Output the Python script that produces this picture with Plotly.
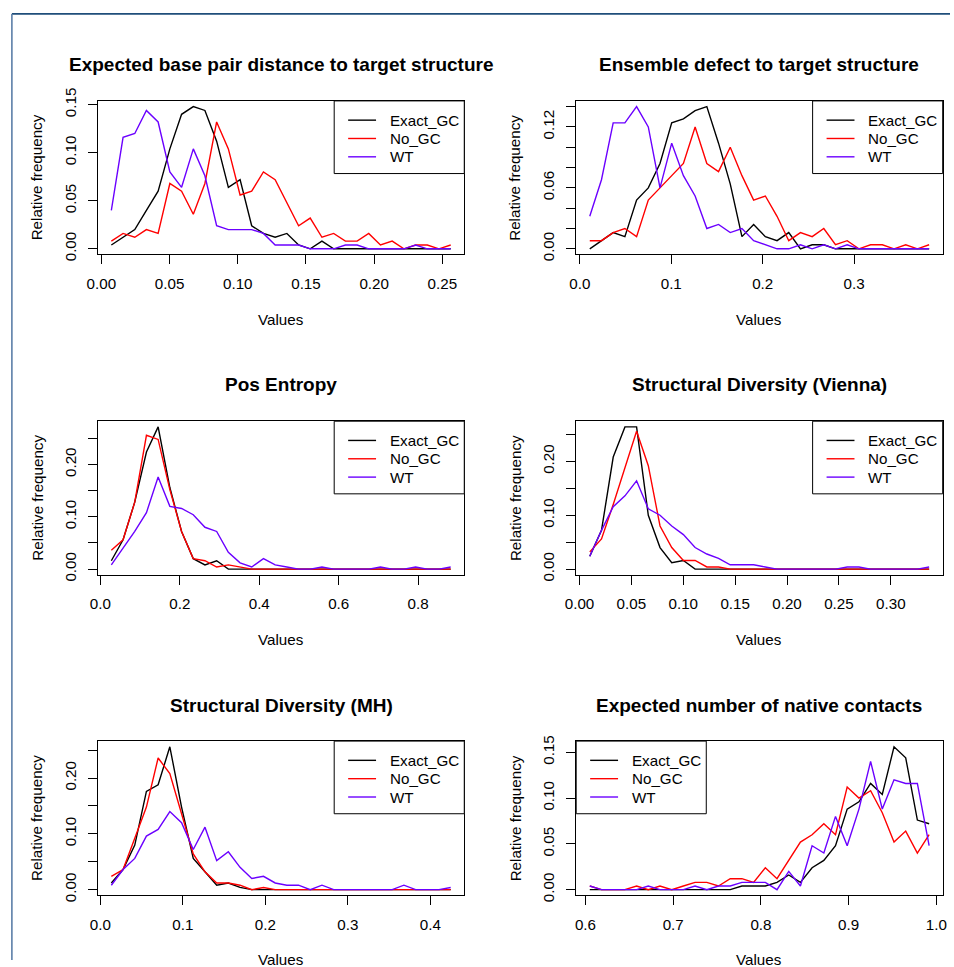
import plotly.graph_objects as go

W, H = 954, 967
FONT = "Liberation Sans, Arial, Helvetica, sans-serif"

series_names = ["Exact_GC", "No_GC", "WT"]
series_colors = ["#000000", "#FF0000", "#6B00FF"]

titles = [
    "Expected base pair distance to target structure",
    "Ensemble defect to target structure",
    "Pos Entropy",
    "Structural Diversity (Vienna)",
    "Structural Diversity (MH)",
    "Expected number of native contacts",
]

# ---------------- Panel 1 ----------------
x_p1 = [0.0073, 0.0159, 0.0245, 0.0330, 0.0416, 0.0502, 0.0588, 0.0674, 0.0759, 0.0845,
        0.0931, 0.1017, 0.1102, 0.1188, 0.1274, 0.1360, 0.1446, 0.1531, 0.1617, 0.1703,
        0.1789, 0.1875, 0.1960, 0.2046, 0.2132, 0.2218, 0.2304, 0.2389, 0.2475, 0.2561]
exact_p1 = [0.004, 0.012, 0.020, 0.040, 0.060, 0.104, 0.140, 0.148, 0.144, 0.112,
            0.064, 0.072, 0.024, 0.016, 0.012, 0.016, 0.004, 0.000, 0.008, 0.000,
            0.000, 0.000, 0.000, 0.000, 0.000, 0.000, 0.000, 0.000, 0.000, 0.000]
nogc_p1 = [0.008, 0.016, 0.012, 0.020, 0.016, 0.068, 0.060, 0.036, 0.068, 0.132,
           0.104, 0.056, 0.060, 0.080, 0.072, 0.048, 0.024, 0.032, 0.012, 0.016,
           0.008, 0.008, 0.016, 0.004, 0.008, 0.000, 0.004, 0.004, 0.000, 0.004]
wt_p1 = [0.040, 0.116, 0.120, 0.144, 0.132, 0.080, 0.064, 0.104, 0.076, 0.024,
         0.020, 0.020, 0.020, 0.016, 0.004, 0.004, 0.004, 0.000, 0.000, 0.000,
         0.004, 0.004, 0.000, 0.000, 0.000, 0.000, 0.004, 0.000, 0.000, 0.000]

# ---------------- Panel 2 ----------------
x_p2 = [0.0109, 0.0237, 0.0365, 0.0493, 0.0621, 0.0749, 0.0877, 0.1005, 0.1133, 0.1261,
        0.1389, 0.1517, 0.1645, 0.1773, 0.1901, 0.2029, 0.2157, 0.2285, 0.2413, 0.2541,
        0.2668, 0.2796, 0.2924, 0.3052, 0.3180, 0.3308, 0.3436, 0.3564, 0.3692, 0.3820]
exact_p2 = [0.000, 0.008, 0.016, 0.012, 0.048, 0.060, 0.084, 0.124, 0.128, 0.136,
            0.140, 0.104, 0.064, 0.012, 0.024, 0.012, 0.008, 0.016, 0.000, 0.004,
            0.004, 0.000, 0.000, 0.000, 0.000, 0.000, 0.000, 0.000, 0.000, 0.000]
nogc_p2 = [0.008, 0.008, 0.016, 0.020, 0.012, 0.048, 0.060, 0.072, 0.084, 0.120,
           0.084, 0.076, 0.100, 0.072, 0.048, 0.052, 0.032, 0.008, 0.016, 0.012,
           0.020, 0.004, 0.008, 0.000, 0.004, 0.004, 0.000, 0.004, 0.000, 0.004]
wt_p2 = [0.032, 0.068, 0.124, 0.124, 0.140, 0.120, 0.060, 0.104, 0.072, 0.052,
         0.020, 0.024, 0.016, 0.020, 0.008, 0.004, 0.000, 0.000, 0.004, 0.000,
         0.004, 0.000, 0.004, 0.000, 0.000, 0.000, 0.000, 0.000, 0.000, 0.000]

# ---------------- Panel 3 ----------------
x_p3 = [0.0276, 0.0571, 0.0865, 0.1160, 0.1454, 0.1749, 0.2044, 0.2338, 0.2633, 0.2928,
        0.3222, 0.3517, 0.3811, 0.4106, 0.4401, 0.4695, 0.4990, 0.5285, 0.5579, 0.5874,
        0.6168, 0.6463, 0.6758, 0.7052, 0.7347, 0.7642, 0.7936, 0.8231, 0.8525, 0.8820]
exact_p3 = [0.016, 0.056, 0.128, 0.224, 0.272, 0.156, 0.072, 0.020, 0.008, 0.016,
            0.000, 0.000, 0.000, 0.000, 0.000, 0.000, 0.000, 0.000, 0.000, 0.000,
            0.000, 0.000, 0.000, 0.000, 0.000, 0.000, 0.000, 0.000, 0.000, 0.000]
nogc_p3 = [0.036, 0.056, 0.128, 0.256, 0.248, 0.152, 0.072, 0.020, 0.016, 0.004,
           0.008, 0.004, 0.000, 0.000, 0.000, 0.000, 0.000, 0.000, 0.000, 0.000,
           0.000, 0.000, 0.000, 0.000, 0.000, 0.000, 0.000, 0.000, 0.000, 0.000]
wt_p3 = [0.008, 0.040, 0.072, 0.108, 0.176, 0.120, 0.116, 0.104, 0.080, 0.072,
         0.032, 0.012, 0.004, 0.020, 0.008, 0.004, 0.000, 0.000, 0.004, 0.000,
         0.000, 0.000, 0.000, 0.004, 0.000, 0.000, 0.004, 0.000, 0.000, 0.004]

# ---------------- Panel 4 ----------------
x_p4 = [0.0099, 0.0212, 0.0325, 0.0438, 0.0550, 0.0663, 0.0776, 0.0889, 0.1001, 0.1114,
        0.1227, 0.1340, 0.1452, 0.1565, 0.1678, 0.1790, 0.1903, 0.2016, 0.2129, 0.2241,
        0.2354, 0.2467, 0.2580, 0.2692, 0.2805, 0.2918, 0.3031, 0.3143, 0.3256, 0.3369]
exact_p4 = [0.024, 0.072, 0.208, 0.264, 0.264, 0.100, 0.040, 0.012, 0.016, 0.000,
            0.000, 0.000, 0.000, 0.000, 0.000, 0.000, 0.000, 0.000, 0.000, 0.000,
            0.000, 0.000, 0.000, 0.000, 0.000, 0.000, 0.000, 0.000, 0.000, 0.000]
nogc_p4 = [0.032, 0.056, 0.120, 0.188, 0.256, 0.192, 0.080, 0.040, 0.016, 0.016,
           0.004, 0.004, 0.000, 0.000, 0.000, 0.000, 0.000, 0.000, 0.000, 0.000,
           0.000, 0.000, 0.000, 0.000, 0.000, 0.000, 0.000, 0.000, 0.000, 0.000]
wt_p4 = [0.024, 0.072, 0.116, 0.136, 0.164, 0.112, 0.100, 0.080, 0.064, 0.040,
         0.028, 0.020, 0.008, 0.008, 0.008, 0.004, 0.000, 0.000, 0.000, 0.000,
         0.000, 0.000, 0.004, 0.004, 0.000, 0.000, 0.000, 0.000, 0.000, 0.004]

# ---------------- Panel 5 ----------------
x_p5 = [0.0133, 0.0275, 0.0417, 0.0558, 0.0700, 0.0842, 0.0984, 0.1126, 0.1268, 0.1410,
        0.1551, 0.1693, 0.1835, 0.1977, 0.2119, 0.2260, 0.2402, 0.2544, 0.2686, 0.2828,
        0.2970, 0.3111, 0.3253, 0.3395, 0.3537, 0.3679, 0.3821, 0.3962, 0.4104, 0.4246]
exact_p5 = [0.012, 0.036, 0.080, 0.176, 0.188, 0.256, 0.148, 0.056, 0.032, 0.008,
            0.012, 0.004, 0.000, 0.000, 0.000, 0.000, 0.000, 0.000, 0.000, 0.000,
            0.000, 0.000, 0.000, 0.000, 0.000, 0.000, 0.000, 0.000, 0.000, 0.000]
nogc_p5 = [0.024, 0.036, 0.092, 0.148, 0.236, 0.208, 0.136, 0.064, 0.032, 0.012,
           0.012, 0.008, 0.000, 0.004, 0.000, 0.000, 0.000, 0.000, 0.000, 0.000,
           0.000, 0.000, 0.000, 0.000, 0.000, 0.000, 0.000, 0.000, 0.000, 0.000]
wt_p5 = [0.008, 0.036, 0.056, 0.096, 0.108, 0.140, 0.120, 0.072, 0.112, 0.052,
         0.068, 0.040, 0.020, 0.024, 0.012, 0.008, 0.008, 0.000, 0.008, 0.000,
         0.000, 0.000, 0.000, 0.000, 0.000, 0.008, 0.000, 0.000, 0.000, 0.004]

# ---------------- Panel 6 ----------------
x_p6 = [0.6049, 0.6182, 0.6316, 0.6449, 0.6583, 0.6716, 0.6849, 0.6983, 0.7116, 0.7249,
        0.7383, 0.7516, 0.7650, 0.7783, 0.7916, 0.8050, 0.8183, 0.8317, 0.8450, 0.8583,
        0.8717, 0.8850, 0.8983, 0.9117, 0.9250, 0.9383, 0.9517, 0.9650, 0.9783, 0.9917]
exact_p6 = [0.000, 0.000, 0.000, 0.000, 0.000, 0.000, 0.000, 0.000, 0.000, 0.000,
            0.000, 0.000, 0.000, 0.004, 0.004, 0.004, 0.008, 0.016, 0.008, 0.024,
            0.032, 0.048, 0.088, 0.096, 0.116, 0.104, 0.156, 0.144, 0.076, 0.072]
nogc_p6 = [0.004, 0.000, 0.000, 0.000, 0.004, 0.000, 0.004, 0.000, 0.004, 0.008,
           0.008, 0.004, 0.012, 0.012, 0.008, 0.024, 0.012, 0.032, 0.052, 0.060,
           0.072, 0.060, 0.112, 0.100, 0.108, 0.084, 0.052, 0.064, 0.040, 0.060]
wt_p6 = [0.004, 0.000, 0.000, 0.000, 0.000, 0.004, 0.000, 0.000, 0.000, 0.004,
         0.000, 0.004, 0.004, 0.008, 0.008, 0.008, 0.000, 0.020, 0.004, 0.048,
         0.040, 0.080, 0.048, 0.088, 0.140, 0.088, 0.120, 0.116, 0.116, 0.048]

# ---------------- tick definitions ----------------
xtick_vals = [
    [0.00, 0.05, 0.10, 0.15, 0.20, 0.25],
    [0.0, 0.1, 0.2, 0.3],
    [0.0, 0.2, 0.4, 0.6, 0.8],
    [0.00, 0.05, 0.10, 0.15, 0.20, 0.25, 0.30],
    [0.0, 0.1, 0.2, 0.3, 0.4],
    [0.6, 0.7, 0.8, 0.9, 1.0],
]
xtick_text = [
    ["0.00", "0.05", "0.10", "0.15", "0.20", "0.25"],
    ["0.0", "0.1", "0.2", "0.3"],
    ["0.0", "0.2", "0.4", "0.6", "0.8"],
    ["0.00", "0.05", "0.10", "0.15", "0.20", "0.25", "0.30"],
    ["0.0", "0.1", "0.2", "0.3", "0.4"],
    ["0.6", "0.7", "0.8", "0.9", "1.0"],
]
ytick_vals = [
    [0.00, 0.05, 0.10, 0.15],
    [0.00, 0.02, 0.04, 0.06, 0.08, 0.10, 0.12, 0.14],
    [0.00, 0.05, 0.10, 0.15, 0.20, 0.25],
    [0.00, 0.05, 0.10, 0.15, 0.20, 0.25],
    [0.00, 0.05, 0.10, 0.15, 0.20, 0.25],
    [0.00, 0.05, 0.10, 0.15],
]
ytick_text = [
    ["0.00", "0.05", "0.10", "0.15"],
    ["0.00", "", "", "0.06", "", "", "0.12", ""],
    ["0.00", "", "0.10", "", "0.20", ""],
    ["0.00", "", "0.10", "", "0.20", ""],
    ["0.00", "", "0.10", "", "0.20", ""],
    ["0.00", "0.05", "0.10", "0.15"],
]

panels_x = [x_p1, x_p2, x_p3, x_p4, x_p5, x_p6]
panels_y = [
    [exact_p1, nogc_p1, wt_p1],
    [exact_p2, nogc_p2, wt_p2],
    [exact_p3, nogc_p3, wt_p3],
    [exact_p4, nogc_p4, wt_p4],
    [exact_p5, nogc_p5, wt_p5],
    [exact_p6, nogc_p6, wt_p6],
]
legend_side = ["right", "right", "right", "right", "right", "left"]

# ---------------- layout geometry (target pixels in the final picture) ----------------
col_px = [(98.3, 466.0), (578.3, 946.0)]
row_px = [(101.0, 254.3), (420.7, 574.0), (740.0, 894.0)]
row_step = 319.5
LEG_W, LEG_H = 130.5, 72.5
LEG_ROWS = [19.2, 37.5, 55.8]
LINE_WIDTH = 1.4

# the photographed page shows the figure slightly shrunk and offset;
# positions below are pre-compensated so the picture lands on the target pixels
OX, SX = 11.25, 0.9875
OY, SY = 13.25, 0.9775
FS = 1.0 / SX  # font compensation


def px(x):
    return ((x - OX) / SX) / W


def py(y):
    return 1 - ((y - OY) / SY) / H


fig = go.Figure()
annotations = []
shapes = []
layout_upd = {}

for k in range(6):
    r, c = divmod(k, 2)
    x0, x1 = col_px[c]
    y0, y1 = row_px[r]
    xa = "x" if k == 0 else f"x{k+1}"
    ya = "y" if k == 0 else f"y{k+1}"
    xname = "xaxis" if k == 0 else f"xaxis{k+1}"
    yname = "yaxis" if k == 0 else f"yaxis{k+1}"

    xs = panels_x[k]
    xmin, xmax = min(xs), max(xs)
    dx = (xmax - xmin) * 0.04
    ymax = max(max(s) for s in panels_y[k])
    dy = ymax * 0.04

    for s, name, col in zip(panels_y[k], series_names, series_colors):
        fig.add_trace(go.Scatter(
            x=xs, y=s, mode="lines", name=name,
            line=dict(color=col, width=LINE_WIDTH),
            xaxis=xa, yaxis=ya, showlegend=False, hoverinfo="x+y+name",
        ))

    common = dict(
        showline=True, mirror=True, linecolor="black", linewidth=1,
        ticks="outside", ticklen=9, tickwidth=1, tickcolor="black",
        showgrid=False, zeroline=False,
        tickfont=dict(family=FONT, size=15 * FS, color="black"),
        tickmode="array",
    )
    layout_upd[xname] = dict(
        common, domain=[px(x0), px(x1)], anchor=ya,
        range=[xmin - dx, xmax + dx],
        tickvals=xtick_vals[k], ticktext=xtick_text[k],
        ticklabelstandoff=6,
    )
    layout_upd[yname] = dict(
        common, domain=[py(y1), py(y0)], anchor=xa,
        range=[-dy, ymax + dy],
        tickvals=ytick_vals[k], ticktext=ytick_text[k],
        tickangle=-90, ticklabelstandoff=6,
    )

    # legend box (R-style legend drawn at the plot corner)
    if legend_side[k] == "right":
        lx0, lx1 = x1 - LEG_W, x1
    else:
        lx0, lx1 = x0, x0 + LEG_W
    shapes.append(dict(
        type="rect", xref="paper", yref="paper",
        x0=px(lx0), x1=px(lx1), y0=py(y0 + LEG_H), y1=py(y0),
        fillcolor="white", line=dict(color="black", width=1), layer="above",
    ))
    for j, (name, col) in enumerate(zip(series_names, series_colors)):
        ey = y0 + LEG_ROWS[j]
        shapes.append(dict(
            type="line", xref="paper", yref="paper",
            x0=px(lx0 + 14), x1=px(lx0 + 42), y0=py(ey), y1=py(ey),
            line=dict(color=col, width=LINE_WIDTH), layer="above",
        ))
        annotations.append(dict(
            text=name, x=px(lx0 + 53.5), y=py(ey),
            xref="paper", yref="paper", showarrow=False,
            xanchor="left", yanchor="middle",
            font=dict(family=FONT, size=15 * FS, color="black"),
        ))

    cx = (x0 + x1) / 2
    cy = (y0 + y1) / 2
    annotations.append(dict(
        text=f"<b>{titles[k]}</b>", x=px(cx), y=py(65 + r * row_step),
        xref="paper", yref="paper", showarrow=False,
        xanchor="center", yanchor="middle",
        font=dict(family=FONT, size=19, color="black"),
    ))
    annotations.append(dict(
        text="Values", x=px(cx), y=py(319 + r * row_step),
        xref="paper", yref="paper", showarrow=False,
        xanchor="center", yanchor="middle",
        font=dict(family=FONT, size=15 * FS, color="black"),
    ))
    annotations.append(dict(
        text="Relative frequency", x=px(37 + c * 480), y=py(cy),
        xref="paper", yref="paper", showarrow=False, textangle=-90,
        xanchor="center", yanchor="middle",
        font=dict(family=FONT, size=15 * FS, color="black"),
    ))

# outer frame lines (top and left), kept just inside the page edge
shapes += [
    dict(type="line", xref="paper", yref="paper",
         x0=0.9 / W, x1=1.0, y0=1 - 0.9 / H, y1=1 - 0.9 / H,
         line=dict(color="#1F4E7A", width=1.6)),
    dict(type="line", xref="paper", yref="paper",
         x0=0.9 / W, x1=0.9 / W, y0=1 - 0.9 / H, y1=0.0,
         line=dict(color="#5C7FA8", width=1.6)),
]

fig.update_layout(
    margin=dict(l=0, r=0, t=0, b=0),
    paper_bgcolor="white", plot_bgcolor="white",
    font=dict(family=FONT, size=15, color="black"),
    annotations=annotations, shapes=shapes,
    showlegend=False,
    **layout_upd,
)

fig.write_html(
    "out.html",
    config={"displayModeBar": False},
    default_width=f"{W}px;position:absolute;left:0px;top:0px",
    default_height=f"{H}px",
)
